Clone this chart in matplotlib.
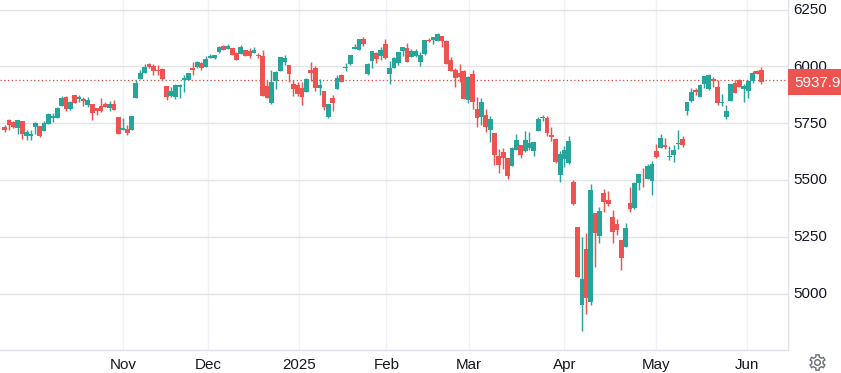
import numpy as np
import matplotlib
matplotlib.use("Agg")
import matplotlib.pyplot as plt
from matplotlib.patches import Polygon, Circle, Rectangle
from matplotlib.transforms import ScaledTranslation

plt.rcParams['font.family'] = ['Liberation Sans', 'DejaVu Sans']

# daily candles
opens = [5732,5765,5753,5727,5760,5694,5694,5734,5738,5716,5747,5773,5773,5826,5865,5813,5874,5857,5857,5830,5835,5817,5826,5835,5817,5835,
         5778,5721,5725,5721,5861,5944,5971,6010,6001,5984,5988,5914,5870,5865,5911,5938,5940,5993,5997,6015,5997,6038,6037,6063,6089,6076,6080,6058,6054,6072,6067,6058,6050,
         6045,5914,5839,5936,5980,6019,6006,5923,5918,5905,5887,5984,5993,5905,5892,5778,5861,5901,5962,5993,6010,6076,6072,6120,5966,6023,6058,6045,6098,5966,
         5993,6015,6067,6080,6041,6045,6019,6054,6116,6116,6111,6133,6111,6028,5984,5971,5980,5852,5966,5813,5778,5787,5721,5708,5607,5624,5598,5563,5633,5655,5629,5642,5629,5716,
         5775,5773,5699,5681,5523,5593,5576,5492,5294,4952,5198,4965,5356,5255,5444,5413,5338,5307,5237,5206,5400,5378,5488,5533,5505,
         5497,5627,5640,5654,5601,5610,5658,5680,5803,5846,5895,5864,5921,5899,5943,5908,5838,5776,5846,5925,5939,5899,5890,5934,5978,5982]
highs = [5741,5769,5760,5765,5760,5721,5721,5754,5738,5760,5795,5795,5820,5870,5870,5848,5874,5874,5865,5865,5835,5817,5861,5843,5848,5852,
         5778,5773,5743,5782,5940,5984,6010,6015,6010,6006,5993,5914,5909,5922,5922,5962,5971,6019,6023,6019,6045,6054,6050,6089,6094,6098,6080,6063,6094,6072,6080,6085,6058,
         6072,5940,5984,5980,6041,6050,6006,5940,5931,5931,5949,6019,6001,5944,5892,5835,5874,5962,5966,6015,6050,6098,6120,6129,6015,6067,6063,6085,6120,6023,
         6041,6063,6085,6102,6076,6076,6063,6116,6124,6129,6146,6133,6116,6041,5993,6010,5984,5958,5984,5866,5861,5813,5782,5708,5637,5642,5598,5646,5703,5655,5716,5712,5668,5778,
         5787,5782,5734,5686,5628,5650,5694,5501,5294,5250,5268,5483,5356,5382,5461,5453,5369,5329,5237,5312,5470,5492,5527,5554,5571,
         5583,5658,5702,5684,5649,5654,5719,5693,5842,5903,5903,5921,5956,5965,5952,5939,5877,5829,5921,5939,5943,5921,5939,5978,5982,5996]
lows = [5712,5721,5728,5703,5681,5677,5677,5703,5690,5716,5747,5757,5773,5826,5804,5808,5839,5843,5826,5822,5765,5786,5800,5822,5804,5808,
        5703,5721,5699,5721,5861,5944,5971,5993,5962,5962,5940,5852,5865,5857,5861,5887,5940,5962,5993,5984,5997,6037,6032,6058,6072,6076,6050,6028,6054,6045,6037,6058,6037,
        5870,5861,5835,5901,5980,6006,5931,5870,5870,5830,5887,5936,5892,5874,5808,5773,5804,5901,5931,5980,6006,6076,6072,6089,5962,5993,6015,6028,6032,5923,
        5993,6006,6045,6019,6041,6041,6001,6050,6107,6098,6111,6085,6010,5980,5909,5931,5857,5839,5813,5734,5743,5712,5668,5567,5532,5550,5506,5563,5633,5598,5624,5633,5607,5716,
        5760,5694,5672,5576,5492,5558,5571,5391,5075,4837,4912,4952,5118,5224,5360,5387,5224,5259,5105,5206,5360,5373,5457,5470,5505,
        5434,5596,5640,5636,5588,5579,5636,5645,5785,5842,5873,5864,5903,5895,5908,5829,5825,5768,5846,5882,5908,5842,5860,5925,5965,5921]
closes = [5721,5744,5732,5765,5703,5710,5703,5750,5694,5750,5791,5782,5817,5861,5813,5843,5839,5865,5848,5852,5795,5804,5804,5822,5835,5808,
          5703,5729,5707,5782,5927,5971,5997,5997,5979,5979,5944,5865,5892,5918,5918,5949,5971,5984,6019,5993,6032,6047,6050,6085,6072,6089,6050,6028,6085,6045,6045,6072,6047,
          5870,5861,5931,5975,6041,6037,5966,5901,5879,5866,5944,5971,5905,5918,5822,5835,5839,5949,5931,5996,6050,6085,6120,6098,6010,6067,6032,6072,6037,5993,
          6037,6063,6085,6019,6067,6067,6050,6116,6111,6129,6142,6111,6010,5980,5949,5953,5857,5953,5844,5773,5844,5734,5769,5611,5567,5598,5519,5642,5677,5611,5677,5664,5668,5769,
          5779,5707,5691,5580,5615,5633,5672,5395,5075,5066,4982,5457,5268,5365,5404,5395,5272,5281,5158,5290,5373,5488,5527,5529,5562,
          5570,5601,5684,5645,5605,5632,5662,5654,5842,5886,5886,5917,5956,5961,5934,5838,5842,5803,5921,5882,5908,5912,5934,5969,5965,5930]

last_price = 5937.9
price_ticks = [6250, 6000, 5750, 5500, 5250, 5000]
month_labels = ['Nov', 'Dec', '2025', 'Feb', 'Mar', 'Apr', 'May', 'Jun']
month_pos = [27, 46.6, 67.4, 87.3, 106.2, 128, 149, 169.7]

UP = '#26a69a'
DOWN = '#ef5350'
W, H = 841, 373

fig = plt.figure(figsize=(W/100, H/100), dpi=100)
ax = fig.add_axes([0, 1-350/H, 787.5/W, 350/H])

idx = np.arange(len(opens))
o = np.array(opens, float)
h = np.array(highs, float)
l = np.array(lows, float)
c = np.array(closes, float)
cols = [UP if a >= b else DOWN for a, b in zip(c, o)]

ax.axhline(last_price, color='#d9483f', lw=0.9, ls=(0, (1, 2)), zorder=1.5)
ax.vlines(idx, l, h, colors=cols, lw=1.05, zorder=2)
ax.bar(idx, np.abs(c-o), bottom=np.minimum(o, c), width=1.1, color=cols, lw=0, zorder=3)

ax.set_xlim(-1.075, 179)
ax.set_ylim(4752, 6292)

ax.set_yticks(price_ticks)
ax.set_xticks(month_pos)
ax.set_xticklabels(month_labels)
ax.yaxis.tick_right()
ax.tick_params(axis='both', length=0, labelsize=10.9, labelcolor='#131722')
ax.tick_params(axis='y', pad=4.0)
ax.tick_params(axis='x', pad=6)
# the scale text sits about a pixel above its grid line
for t in ax.get_yticklabels():
    t.set_transform(t.get_transform() + ScaledTranslation(0, 1/100, fig.dpi_scale_trans))
ax.grid(axis='y', color='#e4e4e4', lw=1.0)
ax.grid(axis='x', color='#eef1f8', lw=1.0)
ax.set_axisbelow(True)
for s in ['top', 'left']:
    ax.spines[s].set_visible(False)
for s in ['right', 'bottom']:
    ax.spines[s].set_color('#e0e3eb')
    ax.spines[s].set_linewidth(1.0)

# last price tag on the scale
fig.add_artist(Rectangle((787.7/W, 1-95/H), (W-787.7)/W, 26/H, transform=fig.transFigure,
                         color=DOWN, lw=0, zorder=5))
fig.text(794/W, 1-83/H, '%.1f' % last_price, color='white', fontsize=10.9, va='center', ha='left', zorder=6)

# settings gear
gax = fig.add_axes([808/W, 1-372/H, 19/W, 19/H])
gax.set_xlim(-9.5, 9.5)
gax.set_ylim(-9.5, 9.5)
gax.axis('off')
ang = []
rad = []
for k in range(6):
    a0 = np.pi/2 + k*np.pi/3
    ang += [a0-0.30, a0-0.20, a0+0.20, a0+0.30]
    rad += [5.8, 7.8, 7.8, 5.8]
ang = np.array(ang)
rad = np.array(rad)
gax.add_patch(Polygon(np.c_[rad*np.cos(ang), rad*np.sin(ang)], closed=True, fill=False,
                      ec='#6a6d78', lw=1.0))
gax.add_patch(Circle((0, 0), 2.8, fill=False, ec='#6a6d78', lw=1.0))

fig.savefig('out.png', dpi=100)
